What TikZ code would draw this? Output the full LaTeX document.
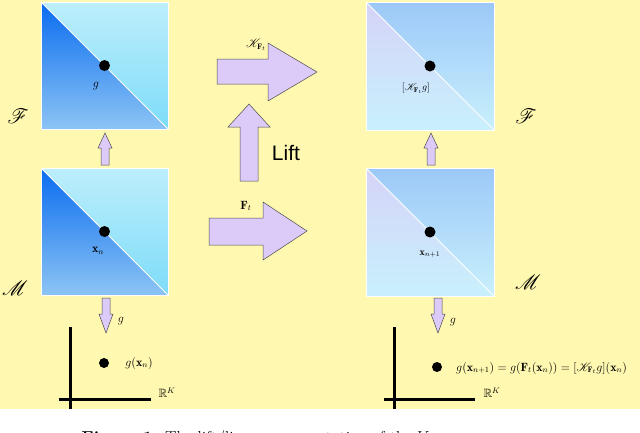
\documentclass[tikz,border=0pt]{standalone}
\usepackage{amssymb,mathrsfs,bm}
\usepackage{fontspec}
\newfontfamily\liftfont{Liberation Sans}
\definecolor{bgy}{HTML}{FFF8B0}
\definecolor{lav}{HTML}{DCCBF8}
\definecolor{dkb}{HTML}{0A6CF0}
\definecolor{midb}{HTML}{8CC4F4}
\definecolor{lcy}{HTML}{BDEEFC}
\definecolor{cyb}{HTML}{7DDCF8}
\definecolor{pnk}{HTML}{EED8F8}
\definecolor{rb}{HTML}{9CC8F8}
\definecolor{rcy}{HTML}{C8F0FC}
\tikzset{
  fatarrow/.style={fill=lav,draw=black!70,line width=0.5pt},
  dot/.style={circle,fill=black,inner sep=0pt,minimum size=11pt},
  lbl/.style={inner sep=1pt,font=\large},
  axis/.style={line width=3pt},
}
\begin{document}
\begin{tikzpicture}[x=1pt,y=-1pt]
\useasboundingbox (0,0) rectangle (640,432);
\fill[bgy] (0,0) rectangle (640,409);
\begin{scope}
\clip (0,0) rectangle (640,432);
\node[anchor=base west,font=\LARGE] (cap) at (78,443) {\textbf{Figure 1:} The lift/linear representation of the Koopman};
\end{scope}
% left squares
\foreach \y/\nm in {2/LT,168/LB}{
  \fill[top color=lcy,bottom color=cyb] (41,\y) rectangle (168,\y+127);
  \fill[top color=dkb,bottom color=midb] (41,\y) -- (168,\y+127) -- (41,\y+127) -- cycle;
  \draw[white,line width=0.8pt] (41,\y) -- (168,\y+127);
  \draw[white,line width=0.6pt] (41,\y) rectangle (168,\y+127);
  \coordinate (\nm) at (104.5,\y+63.5);
}
% right squares
\foreach \y/\nm in {2/RT,168/RB}{
  \fill[top color=rb,bottom color=rcy] (366,\y) rectangle (494,\y+128);
  \fill[top color=pnk!70!rb,bottom color=rcy] (366,\y) -- (494,\y+128) -- (366,\y+128) -- cycle;
  \draw[white,line width=0.8pt] (366,\y) -- (494,\y+128);
  \draw[white,line width=0.6pt] (366,\y) rectangle (494,\y+128);
  \coordinate (\nm) at (430,\y+64);
}
\node[dot] (dg) at (LT) {};
\node[lbl] (lg) at (96,86) {$g$};
\node[dot] (dx) at (LB) {};
\node[lbl] (lx) at (98,251) {$\mathbf{x}_n$};
\node[dot] (dk) at (RT) {};
\node[lbl,font=\normalsize] (lk) at (416,88) {$[\mathscr{K}_{\mathbf{F}_t}g]$};
\node[dot] (dx1) at (RB) {};
\node[lbl,font=\normalsize] (lx1) at (430,254) {$\mathbf{x}_{n+1}$};
% space labels
\node[font=\huge] (F1) at (18,116) {$\mathscr{F}$};
\node[font=\huge] (M1) at (15,288) {$\mathscr{M}$};
\node[font=\huge] (F2) at (526,116) {$\mathscr{F}$};
\node[font=\huge] (M2) at (528,282) {$\mathscr{M}$};
% small up arrows
\foreach \x in {105,431}{
  \draw[fatarrow] (\x-4,165) -- (\x+4,165) -- (\x+4,148) -- (\x+7,148) -- (\x,133) -- (\x-7,148) -- (\x-4,148) -- cycle;
}
% down arrows
\foreach \x in {106,438}{
  \draw[fatarrow] (\x-4,298) -- (\x+4,298) -- (\x+4,314) -- (\x+7,314) -- (\x,333) -- (\x-7,314) -- (\x-4,314) -- cycle;
}
\node[lbl] (gd1) at (121,321) {$g$};
\node[lbl] (gd2) at (453,322) {$g$};
% big arrows
\draw[fatarrow] (217,59) -- (268,59) -- (268,43) -- (317,72) -- (268,101) -- (268,84) -- (217,84) -- cycle;
\node[lbl] (kf) at (256,45) {$\mathscr{K}_{\mathbf{F}_t}$};
\draw[fatarrow] (209,218) -- (263,218) -- (263,202) -- (307,231) -- (263,260) -- (263,245) -- (209,245) -- cycle;
\node[lbl] (ft) at (246,206) {$\mathbf{F}_t$};
\draw[fatarrow] (240,181) -- (258,181) -- (258,127) -- (270,127) -- (249,104) -- (228,127) -- (240,127) -- cycle;
\node[font=\liftfont\fontsize{21}{24}\selectfont] (lift) at (286,153) {Lift};
% axes
\draw[axis] (70,327) -- (70,409);
\draw[axis] (59,399) -- (151,399);
\node[lbl] (rk1) at (167,393) {$\mathbb{R}^K$};
\draw[axis] (394,327) -- (394,409);
\draw[axis] (384,399) -- (475,399);
\node[lbl] (rk2) at (492,393) {$\mathbb{R}^K$};
\node[dot,minimum size=10pt] (p1) at (104,363) {};
\node[lbl] (p1l) at (139,363) {$g(\mathbf{x}_n)$};
\node[dot,minimum size=10pt] (p2) at (437,367) {};
\node[lbl,font=\fontsize{12}{14}\selectfont,anchor=west] (p2l) at (455,368) {$g(\mathbf{x}_{n+1})=g(\mathbf{F}_t(\mathbf{x}_n))=[\mathscr{K}_{\mathbf{F}_t}g](\mathbf{x}_n)$};
\end{tikzpicture}
\end{document}
